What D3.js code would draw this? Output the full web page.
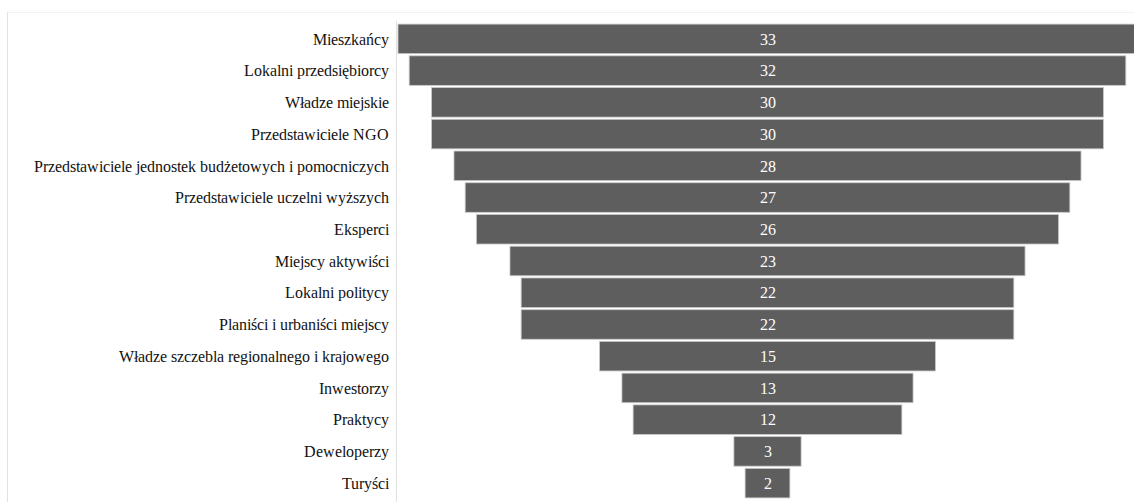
<!DOCTYPE html>
<html><head><meta charset="utf-8">
<script src="https://cdn.jsdelivr.net/npm/d3@7"></script>
<style>
@font-face { font-family: "ChartSerif"; src: local("Liberation Serif"), local("LiberationSerif"), local("Tinos"), local("Times New Roman"); font-display: swap; }
html,body{margin:0;padding:0;background:#fff;}
svg{display:block;}
</style></head>
<body>
<svg id="chart" width="1134" height="502"></svg>
<script>
const categories = [
  "Mieszkańcy",
  "Lokalni przedsiębiorcy",
  "Władze miejskie",
  "Przedstawiciele NGO",
  "Przedstawiciele jednostek budżetowych i pomocniczych",
  "Przedstawiciele uczelni wyższych",
  "Eksperci",
  "Miejscy aktywiści",
  "Lokalni politycy",
  "Planiści i urbaniści miejscy",
  "Władze szczebla regionalnego i krajowego",
  "Inwestorzy",
  "Praktycy",
  "Deweloperzy",
  "Turyści"
];
const values = [33, 32, 30, 30, 28, 27, 26, 23, 22, 22, 15, 13, 12, 3, 2];

const FONT = "ChartSerif, Tinos, 'Liberation Serif', FreeSerif, serif";
const svg = d3.select("#chart");
const axisX = 396.5;
const centerX = 767.5;

svg.append("line").attr("x1", 7.5).attr("x2", 7.5).attr("y1", 12).attr("y2", 502)
  .attr("stroke", "#e2e2e2").attr("stroke-width", 1);
svg.append("line").attr("x1", 7.5).attr("x2", 1134).attr("y1", 12.5).attr("y2", 12.5)
  .attr("stroke", "#f2f2f2").attr("stroke-width", 1);

const y = d3.scaleBand().domain(categories).range([23, 499]).paddingInner(0.07).paddingOuter(0.035);
const w = d3.scaleLinear().domain([0, 33]).range([0, 739]);

svg.append("line").attr("x1", axisX).attr("x2", axisX).attr("y1", 21).attr("y2", 502)
  .attr("stroke", "#e0e0e0").attr("stroke-width", 1);

const g = svg.append("g");
g.selectAll("rect").data(values).join("rect")
  .attr("x", (d) => centerX - w(d) / 2)
  .attr("y", (d, i) => y(categories[i]))
  .attr("width", (d) => w(d))
  .attr("height", y.bandwidth())
  .attr("fill", "#5e5e5e")
  .attr("stroke", "#c8c8c8")
  .attr("stroke-width", 0.8);

g.selectAll("text.val").data(values).join("text")
  .attr("class", "val")
  .attr("x", centerX)
  .attr("y", (d, i) => y(categories[i]) + y.bandwidth() / 2)
  .attr("dy", "0.36em")
  .attr("text-anchor", "middle")
  .attr("fill", "#ffffff")
  .style("font-family", FONT)
  .style("font-size", "16px")
  .text((d) => d);

const yAxis = d3.axisLeft(y).tickSize(0).tickPadding(8);
const ax = svg.append("g").attr("transform", `translate(${axisX},0)`).call(yAxis);
ax.attr("font-family", null);
ax.select(".domain").remove();
ax.selectAll("text")
  .attr("fill", "#111")
  .attr("dy", "0.36em")
  .style("font-family", FONT)
  .style("font-size", "16px");
</script>
</body></html>
